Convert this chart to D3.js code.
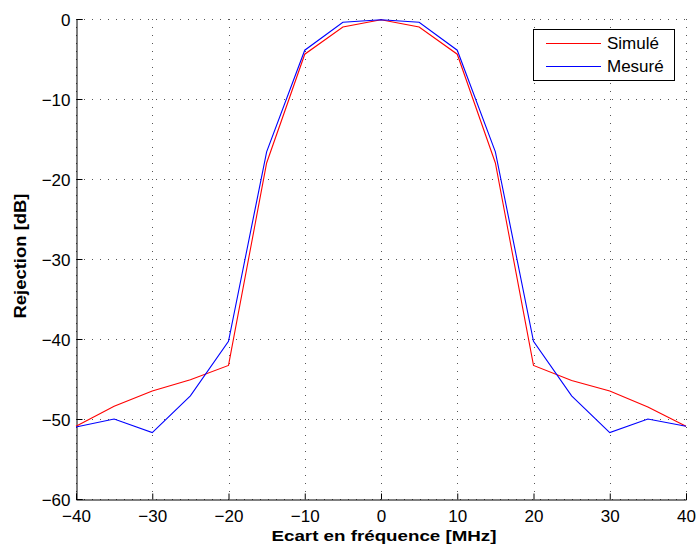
<!DOCTYPE html>
<html><head><meta charset="utf-8">
<script src="https://cdn.jsdelivr.net/npm/d3@7"></script>
<style>body{margin:0;background:#fff;} svg{display:block;font-family:"Liberation Sans",Arial,sans-serif;}</style>
</head><body><svg id="c" width="696" height="547"></svg>
<script>
const freqs = [-40,-35,-30,-25,-20,-15,-10,-5,0,5,10,15,20,25,30,35,40];
const simule = [-50.9,-48.4,-46.5,-45.1,-43.3,-18.0,-4.4,-1.0,-0.1,-1.0,-4.4,-18.0,-43.3,-45.2,-46.5,-48.5,-50.9];
const mesure = [-51.0,-50.0,-51.7,-47.1,-40.3,-16.6,-3.9,-0.4,-0.1,-0.4,-3.9,-16.6,-40.3,-47.1,-51.7,-50.0,-50.9];
const xTicks = [-40,-30,-20,-10,0,10,20,30,40];
const yTicks = [-60,-50,-40,-30,-20,-10,0];
const seriesNames = ["Simulé","Mesuré"];
const seriesColors = ["#ff0000","#0000ff"];

const svg = d3.select("#c");
const FONT = "'Liberation Sans', Arial, sans-serif";
const L=76,R=686,T=19,B=499;
const x = d3.scaleLinear().domain([-40,40]).range([L,R]);
const y = d3.scaleLinear().domain([-60,0]).range([B,T]);

// grid
const g = svg.append("g");
g.selectAll(".vg").data(xTicks).enter().append("line")
 .attr("x1",d=>Math.round(x(d))+0.5).attr("x2",d=>Math.round(x(d))+0.5).attr("y1",T).attr("y2",B)
 .attr("stroke","#555").attr("stroke-width",1).attr("stroke-dasharray","1,7");
g.selectAll(".hg").data(yTicks).enter().append("line")
 .attr("y1",d=>Math.round(y(d))+0.5).attr("y2",d=>Math.round(y(d))+0.5).attr("x1",L).attr("x2",R)
 .attr("stroke","#555").attr("stroke-width",1).attr("stroke-dasharray","1,7");

const fmt = d=>d<0?"\u2212"+(-d):String(d);
// axes
const xa = svg.append("g").attr("transform",`translate(0,${B+0.5})`)
 .call(d3.axisBottom(x).tickValues(xTicks).tickSize(-6).tickPadding(10).tickFormat(fmt));
const ya = svg.append("g").attr("transform",`translate(${L+0.5},0)`)
 .call(d3.axisLeft(y).tickValues(yTicks).tickSize(-6).tickPadding(6).tickFormat(fmt));
[xa,ya].forEach(a=>{
  a.select(".domain").attr("stroke","#000").attr("stroke-width",1);
  a.selectAll(".tick line").attr("stroke","#000");
  a.selectAll("text").attr("font-size",17).attr("fill","#000").attr("font-family",FONT);
});
ya.selectAll("text").attr("dy","0.4em");

// lines
const line = d3.line().x((d,i)=>x(freqs[i])).y(d=>y(d));
[simule,mesure].forEach((s,k)=>{
  svg.append("path").datum(s).attr("d",line).attr("fill","none")
   .attr("stroke",seriesColors[k]).attr("stroke-width",1.1);
});

// labels
svg.append("text").attr("x",384).attr("y",541).attr("text-anchor","middle")
 .attr("font-family",FONT).attr("font-size",15).attr("font-weight","bold")
 .attr("textLength",225).attr("lengthAdjust","spacingAndGlyphs").text("Ecart en fréquence [MHz]");
svg.append("text").attr("transform",`translate(26,256) rotate(-90)`).attr("text-anchor","middle")
 .attr("font-family",FONT).attr("font-size",16).attr("font-weight","bold")
 .attr("textLength",125).attr("lengthAdjust","spacingAndGlyphs").text("Rejection [dB]");

// legend
const lg = svg.append("g");
lg.append("rect").attr("x",533.5).attr("y",29.5).attr("width",141).attr("height",51)
 .attr("fill","#fff").attr("stroke","#000").attr("stroke-width",1);
seriesNames.forEach((n,k)=>{
  const yy = 43 + k*23;
  lg.append("line").attr("x1",546).attr("x2",601).attr("y1",yy+0.5).attr("y2",yy+0.5)
   .attr("stroke",seriesColors[k]).attr("stroke-width",1.1);
  lg.append("text").attr("x",607).attr("y",yy+6).attr("font-family",FONT).attr("font-size",17).text(n);
});
</script></body></html>
